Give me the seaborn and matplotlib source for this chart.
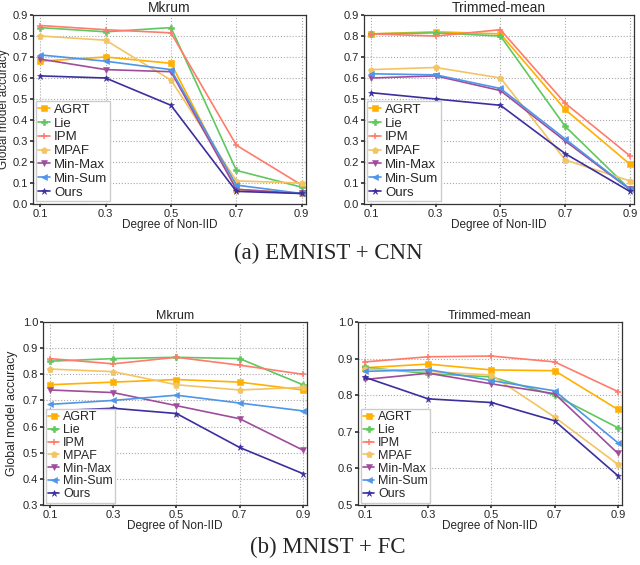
import pandas as pd
import matplotlib
matplotlib.use('Agg')
import matplotlib.pyplot as plt
import seaborn as sns

# x values and method names
non_iid = [0.1, 0.3, 0.5, 0.7, 0.9]
methods = ['AGRT', 'Lie', 'IPM', 'MPAF', 'Min-Max', 'Min-Sum', 'Ours']

# (a) EMNIST + CNN, Mkrum
emnist_mkrum_agrt = [0.68, 0.70, 0.67, 0.07, 0.05]
emnist_mkrum_lie = [0.84, 0.82, 0.84, 0.16, 0.08]
emnist_mkrum_ipm = [0.85, 0.83, 0.815, 0.28, 0.09]
emnist_mkrum_mpaf = [0.80, 0.78, 0.59, 0.11, 0.10]
emnist_mkrum_minmax = [0.69, 0.64, 0.63, 0.07, 0.05]
emnist_mkrum_minsum = [0.71, 0.68, 0.64, 0.09, 0.05]
emnist_mkrum_ours = [0.61, 0.60, 0.47, 0.06, 0.05]

# (a) EMNIST + CNN, Trimmed-mean
emnist_tm_agrt = [0.81, 0.82, 0.81, 0.45, 0.19]
emnist_tm_lie = [0.81, 0.815, 0.80, 0.37, 0.07]
emnist_tm_ipm = [0.81, 0.80, 0.83, 0.48, 0.23]
emnist_tm_mpaf = [0.64, 0.65, 0.60, 0.21, 0.11]
emnist_tm_minmax = [0.60, 0.61, 0.54, 0.30, 0.07]
emnist_tm_minsum = [0.62, 0.615, 0.55, 0.31, 0.07]
emnist_tm_ours = [0.53, 0.50, 0.47, 0.24, 0.06]

# (b) MNIST + FC, Mkrum
mnist_mkrum_agrt = [0.76, 0.77, 0.78, 0.77, 0.74]
mnist_mkrum_lie = [0.85, 0.86, 0.865, 0.86, 0.76]
mnist_mkrum_ipm = [0.86, 0.84, 0.865, 0.835, 0.80]
mnist_mkrum_mpaf = [0.82, 0.81, 0.76, 0.74, 0.75]
mnist_mkrum_minmax = [0.74, 0.73, 0.68, 0.63, 0.51]
mnist_mkrum_minsum = [0.685, 0.70, 0.72, 0.69, 0.66]
mnist_mkrum_ours = [0.66, 0.67, 0.65, 0.52, 0.42]

# (b) MNIST + FC, Trimmed-mean
mnist_tm_agrt = [0.875, 0.885, 0.869, 0.867, 0.761]
mnist_tm_lie = [0.876, 0.859, 0.85, 0.80, 0.711]
mnist_tm_ipm = [0.891, 0.905, 0.907, 0.891, 0.81]
mnist_tm_mpaf = [0.872, 0.865, 0.855, 0.74, 0.611]
mnist_tm_minmax = [0.843, 0.86, 0.831, 0.804, 0.641]
mnist_tm_minsum = [0.865, 0.87, 0.84, 0.812, 0.67]
mnist_tm_ours = [0.849, 0.79, 0.78, 0.73, 0.58]

colors = ['#ffb000', '#5ec85e', '#ff7b6b', '#f2c463', '#a04c9c', '#4f95e8', '#3b2f9e']
markers = ['s', 'P', '+', 'p', 'v', '<', '*']

sns.set_theme(style='whitegrid')
plt.rcParams['font.family'] = ['Liberation Sans', 'DejaVu Sans']

W, H = 640, 565
fig = plt.figure(figsize=(W / 100, H / 100), dpi=100)


def px_axes(left, top, right, bottom):
    return fig.add_axes([left / W, 1 - bottom / H, (right - left) / W, (bottom - top) / H])


def draw(ax, series, title, ylim, yticks, fs, ylabel_x=None):
    # fs: dict of font sizes for this row
    for name, vals, c, m in zip(methods, series, colors, markers):
        sns.lineplot(x=non_iid, y=vals, ax=ax, color=c, marker=m, markersize=4.5,
                     markeredgewidth=1.1 if m == '+' else 0.4,
                     markeredgecolor=c, linewidth=1.2, label=name)
    ax.set_xlim(0.078, 0.913)
    ax.set_ylim(*ylim)
    ax.set_xticks(non_iid)
    ax.set_yticks(yticks)
    ax.set_yticklabels([f'{v:.1f}' for v in yticks])
    ax.tick_params(labelsize=fs['tick'], length=2.5, pad=1, left=True, bottom=True,
                   color='#333333')
    ax.grid(True, linestyle=':', color='#a8a8a8', linewidth=0.8)
    for s in ax.spines.values():
        s.set_color('#333333')
        s.set_linewidth(0.9)
    ax.set_title(title, fontsize=fs['title'], pad=2)
    ax.set_xlabel('Degree of Non-IID', fontsize=fs['label'], labelpad=0)
    if ylabel_x is not None:
        ax.set_ylabel('Global model accuracy', fontsize=fs['ylabel'])
        ax.yaxis.set_label_coords(ylabel_x, 0.5)
    else:
        ax.set_ylabel('')
    ax.legend(loc='lower left', fontsize=fs['legend'], handlelength=0.9,
              handletextpad=0.3, labelspacing=fs['spacing'], borderpad=0.2,
              borderaxespad=0.2, frameon=True, framealpha=1, edgecolor='#cccccc',
              fancybox=False)


top_fs = {'tick': 8, 'title': 10, 'label': 8.5, 'ylabel': 8.5, 'legend': 9.5,
          'spacing': 0.12}
bot_fs = {'tick': 8, 'title': 9, 'label': 8.5, 'ylabel': 8.8, 'legend': 9,
          'spacing': 0.06}

ax1 = px_axes(33, 15, 306, 204)
draw(ax1, [emnist_mkrum_agrt, emnist_mkrum_lie, emnist_mkrum_ipm, emnist_mkrum_mpaf,
           emnist_mkrum_minmax, emnist_mkrum_minsum, emnist_mkrum_ours],
     'Mkrum', (0, 0.9), [0.0, 0.1, 0.2, 0.3, 0.4, 0.5, 0.6, 0.7, 0.8, 0.9], top_fs,
     ylabel_x=(10 - 33) / 273)

ax2 = px_axes(364, 15, 634, 204)
draw(ax2, [emnist_tm_agrt, emnist_tm_lie, emnist_tm_ipm, emnist_tm_mpaf,
           emnist_tm_minmax, emnist_tm_minsum, emnist_tm_ours],
     'Trimmed-mean', (0, 0.9), [0.0, 0.1, 0.2, 0.3, 0.4, 0.5, 0.6, 0.7, 0.8, 0.9], top_fs)

ax3 = px_axes(43, 322, 307, 505)
draw(ax3, [mnist_mkrum_agrt, mnist_mkrum_lie, mnist_mkrum_ipm, mnist_mkrum_mpaf,
           mnist_mkrum_minmax, mnist_mkrum_minsum, mnist_mkrum_ours],
     'Mkrum', (0.3, 1.0), [0.3, 0.4, 0.5, 0.6, 0.7, 0.8, 0.9, 1.0], bot_fs,
     ylabel_x=(18 - 43) / 264)

ax4 = px_axes(358, 322, 622, 505)
draw(ax4, [mnist_tm_agrt, mnist_tm_lie, mnist_tm_ipm, mnist_tm_mpaf,
           mnist_tm_minmax, mnist_tm_minsum, mnist_tm_ours],
     'Trimmed-mean', (0.5, 1.0), [0.5, 0.6, 0.7, 0.8, 0.9, 1.0], bot_fs)

fig.text(328 / W, 1 - 253 / H, '(a) EMNIST + CNN', ha='center', va='center',
         fontsize=16.5, family='Liberation Serif')
fig.text(328 / W, 1 - 547 / H, '(b) MNIST + FC', ha='center', va='center',
         fontsize=16.5, family='Liberation Serif')

fig.savefig('out.png', dpi=100)
